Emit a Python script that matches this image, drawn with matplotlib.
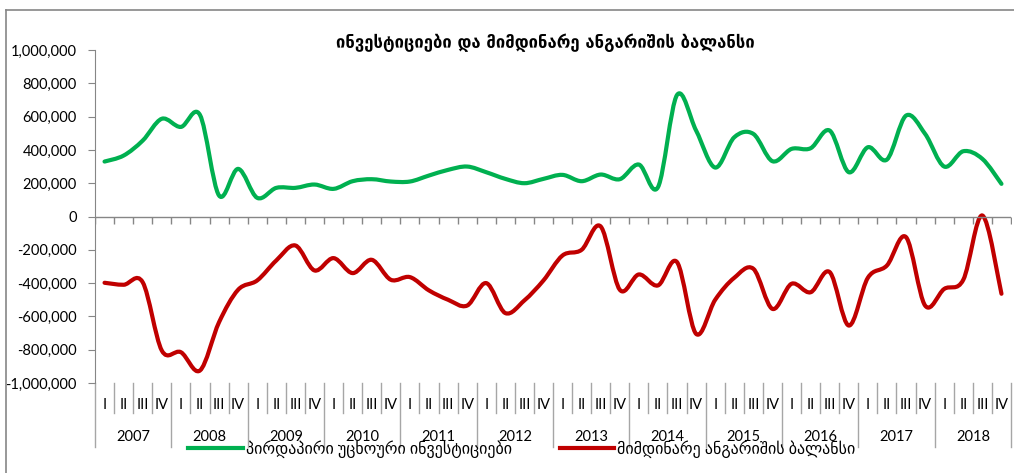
import numpy as np
import matplotlib
matplotlib.use("Agg")
import matplotlib.pyplot as plt
from matplotlib.path import Path
from matplotlib.patches import PathPatch
from matplotlib.lines import Line2D
import matplotlib.transforms as mtrans

plt.rcParams['font.family'] = ['Lato', 'DejaVu Sans']

# data (quarters 2007 I - 2018 IV)
years = [str(y) for y in range(2007, 2019)]
quarters = ["I", "II", "III", "IV"]
fdi = [330000, 366000, 456000, 587000, 538000, 610000, 126000, 286000,
       112000, 172000, 172000, 192000, 166000, 212000, 224000, 210000,
       210000, 246000, 280000, 300000, 266000, 226000, 200000, 226000,
       250000, 212000, 252000, 224000, 312000, 176000, 730000, 516000,
       294000, 476000, 496000, 332000, 406000, 410000, 516000, 266000,
       416000, 342000, 606000, 496000, 300000, 392000, 346000, 196000]
cab = [-398000, -410000, -395000, -805000, -815000, -925000, -635000, -440000,
       -384000, -264000, -174000, -324000, -250000, -340000, -260000, -380000,
       -364000, -444000, -500000, -535000, -400000, -580000, -504000, -384000,
       -234000, -200000, -60000, -440000, -348000, -414000, -274000, -705000,
       -500000, -368000, -314000, -555000, -404000, -455000, -334000, -655000,
       -368000, -294000, -124000, -535000, -435000, -380000, 6000, -464000]
title = "ინვესტიციები და მიმდინარე ანგარიშის ბალანსი"
labels_series = ["პირდაპირი უცხოური ინვესტიციები", "მიმდინარე ანგარიშის ბალანსი"]
colors = ["#00B050", "#C00000"]


def smooth_path(x, y):
    # Excel-style smoothed line: cubic bezier segments through the points
    p = np.column_stack([x, y]).astype(float)
    n = len(p)
    verts = [p[0]]
    codes = [Path.MOVETO]
    for i in range(n - 1):
        p0 = p[max(i - 1, 0)]
        p1 = p[i]
        p2 = p[i + 1]
        p3 = p[min(i + 2, n - 1)]
        verts += [p1 + (p2 - p0) / 6, p2 - (p3 - p1) / 6, p2]
        codes += [Path.CURVE4] * 3
    return Path(verts, codes)


fig = plt.figure(figsize=(10.14, 4.73), dpi=100)
fig.set_facecolor("white")
W, H = 1014, 473
ax = fig.add_axes([95 / W, 1 - 383 / H, 916 / W, 333 / H])

x = np.arange(len(fdi))
for vals, c in zip([fdi, cab], colors):
    ax.add_patch(PathPatch(smooth_path(x, vals), facecolor="none", edgecolor=c,
                           lw=3.0, capstyle="round", joinstyle="round"))

ax.set_xlim(-0.5, len(fdi) - 0.5)
ax.set_ylim(-1000000, 1000000)
ax.set_yticks(np.arange(-1000000, 1000001, 200000))
ax.yaxis.set_major_formatter(matplotlib.ticker.FuncFormatter(lambda v, p: f"{int(v):,}"))
ax.tick_params(axis="y", length=5, color="#868686", labelsize=10.5, pad=8)
ax.set_xticks([])
for s in ["top", "right", "bottom"]:
    ax.spines[s].set_visible(False)
ax.spines["left"].set_color("#868686")

# zero line with quarter ticks
gray = "#868686"
ax.axhline(0, color=gray, lw=1)
bounds = np.arange(len(fdi) + 1) - 0.5
ax.plot(bounds, np.zeros(len(bounds)), ls="", marker=3, ms=5, color=gray, mew=1)

# multi-level category axis
tr = mtrans.blended_transform_factory(ax.transData, ax.transAxes)
for k, b in enumerate(bounds):
    low = -0.192 if k % 4 == 0 else -0.09
    ax.plot([b, b], [0, low], transform=tr, color="#A6A6A6", lw=1, clip_on=False)
for i in range(len(fdi)):
    ax.text(i, -0.066, quarters[i % 4], transform=tr, ha="center", va="center",
            fontsize=10.5, color="black")
for j, yr in enumerate(years):
    ax.text(j * 4 + 1.5, -0.162, yr, transform=tr, ha="center", va="center",
            fontsize=10.5, color="black")

fig.text(545 / W, 1 - 43 / H, title, ha="center", va="center",
         fontsize=12, fontweight="bold", family=["DejaVu Sans"])

handles = [Line2D([], [], color=c, lw=3.0) for c in colors]
fig.legend(handles, labels_series, loc="center", bbox_to_anchor=(522 / W, 1 - 449 / H),
           ncol=2, frameon=False, fontsize=11.5, handlelength=3.4,
           columnspacing=3.0, handletextpad=0.2)

# outer frame (top and left visible)
fig.add_artist(Line2D([6 / W, 6 / W], [0, 1 - 10 / H], transform=fig.transFigure,
                      color=gray, lw=1.2))
fig.add_artist(Line2D([6 / W, 1], [1 - 10 / H, 1 - 10 / H], transform=fig.transFigure,
                      color=gray, lw=1.2))

fig.savefig("out.png", dpi=100)
